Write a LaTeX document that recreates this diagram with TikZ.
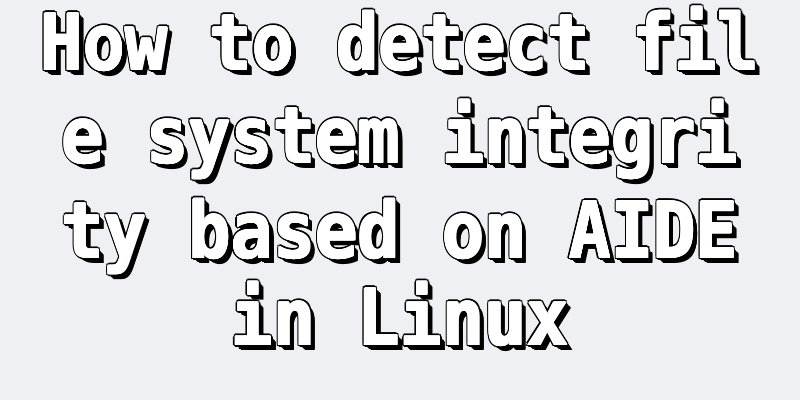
\documentclass[tikz,border=0pt]{standalone}
\usepackage{fontspec}
\setmonofont{DejaVu Sans Mono}
\begin{document}
\begin{tikzpicture}[x=1pt,y=1pt,
  txt/.style={font=\ttfamily\bfseries\fontsize{78}{78}\selectfont,anchor=base,inner sep=0,xscale=0.9}]
\fill[fill={rgb,255:red,238;green,240;blue,243}] (0,0) rectangle (800,400);
\useasboundingbox (0,0) rectangle (800,400);
\foreach \t/\yb [count=\i] in {How to detect fil/330, e system integri/237, ty based on AIDE/142, in Linux/55}{
  \foreach \k in {1,...,12}{
    \node[txt,text=black] at ({400+\k*0.45},{\yb-\k*0.45}) {\t};
  }
  \foreach \a in {0,30,...,330}{
    \node[txt,text=black] at ({400+2.1*cos(\a)},{\yb+2.1*sin(\a)}) {\t};
  }
  \foreach \a in {0,45,...,315}{
    \node[txt,text=white] at ({400+0.9*cos(\a)},{\yb+0.9*sin(\a)}) {\t};
  }
  \node[txt,text=white] (l\i) at (400,\yb) {\t};
}
\end{tikzpicture}
\end{document}
